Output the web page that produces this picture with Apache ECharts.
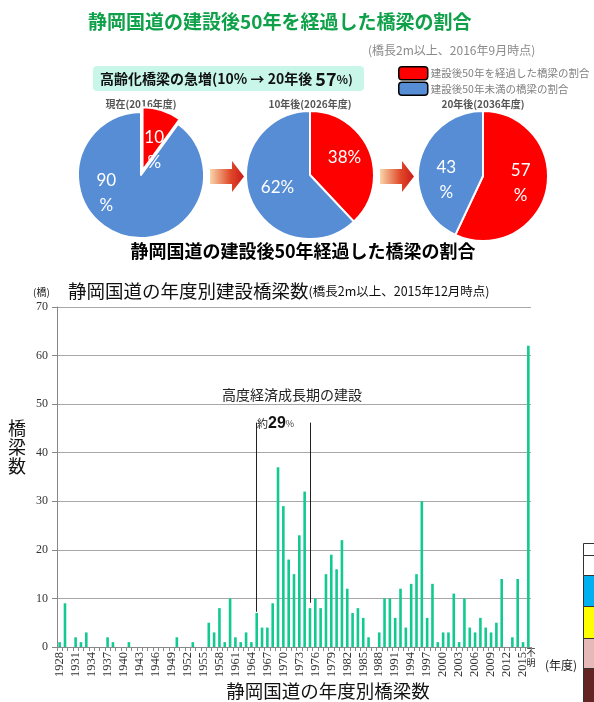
<!DOCTYPE html>
<html>
<head>
<meta charset="utf-8">
<script src="https://cdn.jsdelivr.net/npm/echarts@6/dist/echarts.min.js"></script>
<style>
  html, body { margin: 0; padding: 0; background: #fff; }
  #main { width: 594px; height: 702px; }
</style>
</head>
<body>
<div id="main"></div>
<script>
// 円グラフ（建設後50年経過の割合）
const pieNames = ['建設後50年を経過した橋梁の割合', '建設後50年未満の橋梁の割合'];
const pieYears = ['現在(2016年度)', '10年後(2026年度)', '20年後(2036年度)'];
const agedShare = [10, 38, 57];
const youngShare = [90, 62, 43];

// 年度別建設橋梁数
const years = [
  '1928', '1929',
  '1930', '1931', '1932', '1933', '1934', '1935', '1936', '1937', '1938', '1939',
  '1940', '1941', '1942', '1943', '1944', '1945', '1946', '1947', '1948', '1949',
  '1950', '1951', '1952', '1953', '1954', '1955', '1956', '1957', '1958', '1959',
  '1960', '1961', '1962', '1963', '1964', '1965', '1966', '1967', '1968', '1969',
  '1970', '1971', '1972', '1973', '1974', '1975', '1976', '1977', '1978', '1979',
  '1980', '1981', '1982', '1983', '1984', '1985', '1986', '1987', '1988', '1989',
  '1990', '1991', '1992', '1993', '1994', '1995', '1996', '1997', '1998', '1999',
  '2000', '2001', '2002', '2003', '2004', '2005', '2006', '2007', '2008', '2009',
  '2010', '2011', '2012', '2013', '2014', '2015', '不明'
];
const bridgeCounts = [
  1, 9,
  0, 2, 1, 3, 0, 0, 0, 2, 1, 0,
  0, 1, 0, 0, 0, 0, 0, 0, 0, 0,
  2, 0, 0, 1, 0, 0, 5, 3, 8, 1,
  10, 2, 1, 3, 1, 7, 4, 4, 9, 37,
  29, 18, 15, 23, 32, 8, 10, 8, 15, 19,
  16, 22, 12, 7, 8, 6, 2, 0, 3, 10,
  10, 6, 12, 4, 13, 15, 30, 6, 13, 1,
  3, 3, 11, 1, 10, 4, 3, 6, 4, 3,
  5, 14, 0, 2, 14, 1,
  62
];
const yTicks = [0, 10, 20, 30, 40, 50, 60, 70];

// 高度経済成長期の範囲
const boomYears = ['1965', '1975'];
const boomTop = 46.2;
const boomBottom = [7.25, 9.1];

const jp = '"Noto Sans CJK JP", sans-serif';
const RED = '#ff0000';
const BLUE = '#568dd5';

const pieCenters = [[141, 175], [310, 175], [483, 176]];
const pieRadius = [63, 64, 65];
const wrapPct = [[true, true], [false, false], [true, true]];
const labelOffsets = [[[1, 13], [-24, -15]], [[2, -5], [0, 0]], [[3, -1], [-2, 12]]];

const pieSeries = agedShare.map(function (a, i) {
  return {
    type: 'pie',
    center: pieCenters[i],
    radius: pieRadius[i],
    startAngle: 90,
    clockwise: true,
    silent: true,
    selectedMode: i === 0 ? 'single' : false,
    selectedOffset: 5,
    itemStyle: { borderColor: '#fff', borderWidth: 2 },
    label: {
      show: true,
      position: 'inside',
      color: '#fff',
      fontSize: 17,
      fontFamily: 'Lato',
      lineHeight: 25
    },
    labelLine: { show: false },
    emphasis: { disabled: true },
    data: [
      {
        name: pieNames[0], value: a, selected: i === 0,
        itemStyle: { color: RED },
        label: { offset: labelOffsets[i][0], formatter: a + (wrapPct[i][0] ? '\n%' : '%') },
        select: { label: { offset: labelOffsets[i][0] } }
      },
      {
        name: pieNames[1], value: youngShare[i],
        itemStyle: { color: BLUE },
        label: { offset: labelOffsets[i][1], formatter: youngShare[i] + (wrapPct[i][1] ? '\n%' : '%') }
      }
    ]
  };
});

function arrow(x0) {
  return {
    type: 'polygon',
    silent: true,
    shape: {
      points: [[x0, 169], [x0 + 22, 169], [x0 + 22, 161], [x0 + 34, 176.5],
               [x0 + 22, 192], [x0 + 22, 184], [x0, 184]]
    },
    style: {
      fill: {
        type: 'linear', x: 0, y: 0, x2: 1, y2: 0,
        colorStops: [{ offset: 0, color: '#f8d5aa' }, { offset: 0.6, color: '#e04a2a' }, { offset: 1, color: '#cc1a1a' }]
      }
    }
  };
}

const tableRows = [
  [543, 555, '#ffffff'], [555, 575, '#ffffff'], [575, 606, '#00b0f0'],
  [606, 638, '#ffff00'], [638, 668, '#e6b9b8'], [668, 703, '#632523']
];

const graphics = [
  { type: 'text', x: 88, y: 22, style: { text: '静岡国道の建設後50年を経過した橋梁の割合', font: 'bold 19px ' + jp, fill: '#0fa14a', textVerticalAlign: 'middle' } },
  { type: 'text', x: 368, y: 50, style: { text: '(橋長2m以上、2016年9月時点)', font: '12px ' + jp, fill: '#8a8a8a', textVerticalAlign: 'middle' } },
  { type: 'rect', shape: { x: 93, y: 66, width: 271, height: 25, r: 4 }, style: { fill: '#c8f7ea' } },
  {
    type: 'text', x: 100, y: 79,
    style: {
      text: '{a|高齢化橋梁の急増(10% → 20年後 }{b|57}{c|%)}',
      textVerticalAlign: 'middle',
      rich: {
        a: { font: 'bold 14px ' + jp, fill: '#111' },
        b: { font: 'bold 18px ' + jp, fill: '#111' },
        c: { font: 'bold 12px ' + jp, fill: '#111' }
      }
    }
  },
  arrow(210),
  arrow(380),
  { type: 'text', x: 303, y: 251, style: { text: '静岡国道の建設後50年経過した橋梁の割合', font: 'bold 18px ' + jp, fill: '#000', textAlign: 'center', textVerticalAlign: 'middle' } },
  {
    type: 'text', x: 68, y: 291,
    style: {
      text: '{a|静岡国道の年度別建設橋梁数}{b|(橋長2m以上、2015年12月時点)}',
      textVerticalAlign: 'middle',
      rich: {
        a: { font: '18.5px ' + jp, fill: '#111' },
        b: { font: '12.5px ' + jp, fill: '#111' }
      }
    }
  },
  { type: 'text', x: 33, y: 292, style: { text: '(橋)', font: '10px ' + jp, fill: '#222', textVerticalAlign: 'middle' } },
  { type: 'text', x: 17, y: 447, style: { text: '橋\n梁\n数', font: '18px ' + jp, fill: '#111', textAlign: 'center', textVerticalAlign: 'middle', lineHeight: 19 } },
  { type: 'text', x: 222, y: 395, style: { text: '高度経済成長期の建設', font: '14px ' + jp, fill: '#222', textVerticalAlign: 'middle' } },
  {
    type: 'text', x: 257, y: 424,
    style: {
      text: '{a|約}{b|29}{c|%}',
      textVerticalAlign: 'middle',
      rich: {
        a: { font: '11px ' + jp, fill: '#222' },
        b: { font: 'bold 16px Arial, "Liberation Sans", sans-serif', fill: '#111' },
        c: { font: '9px ' + jp, fill: '#444' }
      }
    }
  },
  { type: 'text', x: 531, y: 658, style: { text: '不\n明', font: '9px ' + jp, fill: '#222', textAlign: 'center', textVerticalAlign: 'middle', lineHeight: 10 } },
  { type: 'text', x: 545, y: 665, style: { text: '(年度)', font: '12px ' + jp, fill: '#222', textVerticalAlign: 'middle' } },
  { type: 'text', x: 328, y: 691, style: { text: '静岡国道の年度別橋梁数', font: '18.5px ' + jp, fill: '#111', textAlign: 'center', textVerticalAlign: 'middle' } }
];

pieYears.forEach(function (t, i) {
  graphics.push({ type: 'text', x: pieCenters[i][0], y: 104, style: { text: t, font: 'bold 10px ' + jp, fill: '#555', textAlign: 'center', textVerticalAlign: 'middle' } });
});
tableRows.forEach(function (r) {
  graphics.push({ type: 'rect', shape: { x: 583.5, y: r[0] + 0.5, width: 20, height: r[1] - r[0] }, style: { fill: r[2], stroke: '#333', lineWidth: 1 } });
});

const myChart = echarts.init(document.getElementById('main'));
const option = {
  animation: false,
  backgroundColor: '#fff',
  legend: {
    data: pieNames,
    orient: 'vertical',
    left: 398,
    top: 66,
    padding: 0,
    itemGap: 1,
    itemWidth: 29,
    itemHeight: 13,
    icon: 'roundRect',
    itemStyle: { borderColor: '#000', borderWidth: 1.5 },
    selectedMode: false,
    textStyle: { color: '#808080', fontSize: 10.5, fontFamily: jp, padding: [0, 0, 0, -2] }
  },
  grid: { left: 57, right: 63, top: 307, bottom: 55, containLabel: false },
  xAxis: {
    type: 'category',
    data: years,
    axisLine: { lineStyle: { color: '#888' } },
    axisTick: { show: true, interval: 0, length: 4, lineStyle: { color: '#888' } },
    axisLabel: {
      rotate: 90,
      margin: 5,
      fontFamily: '"Liberation Serif", serif',
      fontSize: 12.5,
      color: '#333',
      interval: function (index) { return index % 3 === 0 && index < years.length - 1; }
    }
  },
  yAxis: {
    type: 'value',
    min: 0,
    max: 70,
    interval: 10,
    axisLine: { show: true, lineStyle: { color: '#888' } },
    axisTick: { show: true, length: 5, lineStyle: { color: '#888' } },
    axisLabel: {
      margin: 9,
      fontFamily: '"Liberation Serif", serif',
      fontSize: 12,
      color: '#333',
      formatter: function (v) { return yTicks.indexOf(v) >= 0 ? String(v) : ''; }
    },
    splitLine: { lineStyle: { color: '#a8a8a8', width: 1 } }
  },
  series: pieSeries.concat([{
    type: 'bar',
    data: bridgeCounts,
    barWidth: 2.6,
    silent: true,
    itemStyle: { color: '#12c991' },
    markLine: {
      silent: true,
      symbol: ['none', 'none'],
      label: { show: false },
      lineStyle: { color: '#222', width: 1, type: 'solid' },
      data: boomYears.map(function (y, i) {
        return [{ coord: [y, boomTop] }, { coord: [y, boomBottom[i]] }];
      })
    }
  }]),
  graphic: graphics
};
option && myChart.setOption(option);
</script>
</body>
</html>
